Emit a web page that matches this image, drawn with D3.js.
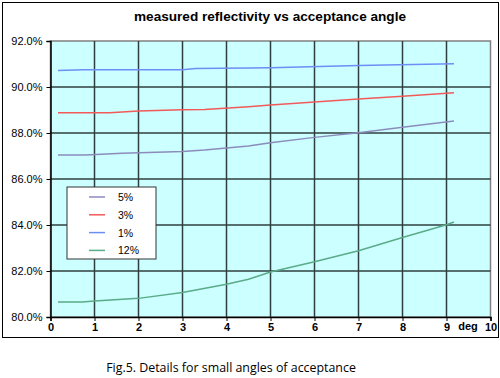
<!DOCTYPE html>
<html><head><meta charset="utf-8">
<script src="https://cdn.jsdelivr.net/npm/d3@7"></script>
<style>body{margin:0;background:#fff}svg{display:block}</style>
</head><body>
<svg id="c" width="500" height="378"></svg>
<script>
const title = "measured reflectivity vs acceptance angle";
const caption = "Fig.5. Details for small angles of acceptance";
const xTicks = [0,1,2,3,4,5,6,7,8,9,10];
const yTicks = [80,82,84,86,88,90,92];
const seriesNames = ["5%","3%","1%","12%"];
const seriesColors = ["#8c8cbc","#f25a5a","#6e8ef5","#5aab88"];
const xBlue = [0.17,0.75,3.0,3.3,4.5,5,7,9.17];
const yBlue = [90.72,90.75,90.75,90.80,90.83,90.84,90.93,91.01];
const xRed = [0.17,1.35,2,3,3.5,4.5,5,7,8,9.17];
const yRed = [88.88,88.88,88.96,89.01,89.02,89.14,89.22,89.48,89.60,89.75];
const xPurple = [0.17,0.8,1.63,3,3.5,4.5,5,6,7,8,9.17];
const yPurple = [87.04,87.04,87.12,87.20,87.26,87.43,87.58,87.81,88.01,88.25,88.52];
const xGreen = [0.17,0.72,1,2,3,4,4.5,5,6,7,8,9,9.17];
const yGreen = [80.65,80.65,80.70,80.81,81.07,81.42,81.64,81.96,82.40,82.88,83.46,84.01,84.13];

const seriesX = [xPurple,xRed,xBlue,xGreen];
const seriesY = [yPurple,yRed,yBlue,yGreen];

const svg = d3.select("#c");
const L=50.5, R=490.5, T=41, B=317;
const x = d3.scaleLinear().domain([0,10]).range([L,R]);
const y = d3.scaleLinear().domain([80,92]).range([B,T]);
const FONT = "Arial, 'Liberation Sans', sans-serif";

// outer frame
svg.append("rect").attr("x",2.5).attr("y",2.5).attr("width",496).attr("height",335)
  .attr("fill","#fff").attr("stroke","#000").attr("stroke-width",1);

// plot bg
svg.append("rect").attr("x",L).attr("y",T).attr("width",R-L).attr("height",B-T)
  .attr("fill","#ccffff").attr("stroke","#808080").attr("stroke-width",1.5);

// grid
const g = svg.append("g");
g.selectAll("line.v").data(xTicks.filter(d=>d>0&&d<10)).join("line")
  .attr("x1",d=>x(d)).attr("x2",d=>x(d)).attr("y1",T).attr("y2",B)
  .attr("stroke","#2f3f3f").attr("stroke-width",1.5);
g.selectAll("line.h").data(yTicks.filter(d=>d>80&&d<92)).join("line")
  .attr("x1",L).attr("x2",R).attr("y1",d=>y(d)).attr("y2",d=>y(d))
  .attr("stroke","#2f3f3f").attr("stroke-width",1.5);

// axes
const yAxis = d3.axisLeft(y).tickValues(yTicks).tickSize(4).tickPadding(4)
  .tickFormat(d=>d.toFixed(1)+"%");
const ya = svg.append("g").attr("transform",`translate(${L},0)`).call(yAxis);
ya.select(".domain").attr("stroke","#000").attr("stroke-width",1.5);
ya.selectAll("text").attr("font-family",FONT).attr("font-size",11).attr("fill","#000");

const xAxis = d3.axisBottom(x).tickValues(xTicks).tickSize(4).tickPadding(2).tickFormat(d3.format("d"));
const xa = svg.append("g").attr("transform",`translate(0,${B})`).call(xAxis);
xa.select(".domain").attr("stroke","#000").attr("stroke-width",1.5);
xa.selectAll("text").attr("font-family",FONT).attr("font-size",11).attr("font-weight","bold").attr("fill","#000");

svg.append("text").attr("x",468).attr("y",330).attr("text-anchor","middle")
  .attr("font-family",FONT).attr("font-size",11).attr("font-weight","bold").text("deg");

// lines
const line = d3.line().x(d=>x(d[0])).y(d=>y(d[1]));
seriesX.forEach((xs,i)=>{
  const pts = xs.map((v,j)=>[v,seriesY[i][j]]);
  svg.append("path").datum(pts).attr("d",line).attr("fill","none")
    .attr("stroke",seriesColors[i]).attr("stroke-width",1.5);
});

// title
svg.append("text").attr("x",270).attr("y",21).attr("text-anchor","middle")
  .attr("font-family",FONT).attr("font-size",13.6).attr("font-weight","bold").text(title);

// legend
const lg = svg.append("g");
lg.append("rect").attr("x",67).attr("y",187).attr("width",89).attr("height",72)
  .attr("fill","#fff").attr("stroke","#333").attr("stroke-width",1);
seriesNames.forEach((n,i)=>{
  const yy = 197 + i*17.8;
  lg.append("line").attr("x1",89).attr("x2",105).attr("y1",yy).attr("y2",yy)
    .attr("stroke",seriesColors[i]).attr("stroke-width",1.5);
  lg.append("text").attr("x",118).attr("y",yy+4).attr("font-family",FONT)
    .attr("font-size",10.5).text(n);
});

// caption
svg.append("text").attr("x",231).attr("y",372).attr("text-anchor","middle")
  .attr("font-family","'Open Sans', 'Noto Sans', sans-serif").attr("font-size",12.4).text(caption);
</script>
</body></html>
